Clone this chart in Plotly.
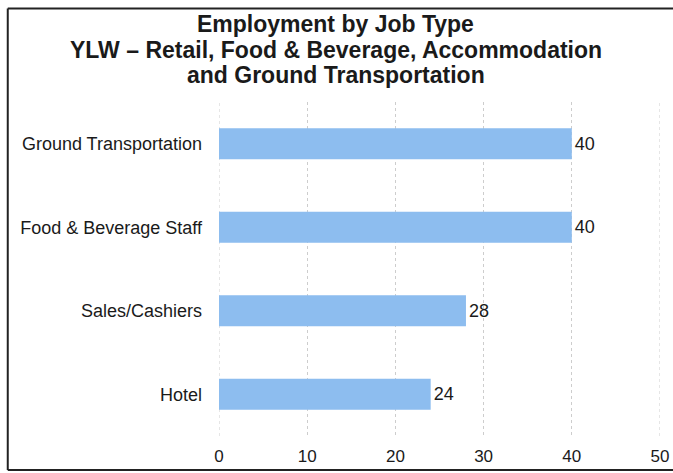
import plotly.graph_objects as go

# Employment counts by job type (top to bottom as listed)
categories = ["Ground Transportation", "Food & Beverage Staff", "Sales/Cashiers", "Hotel"]
employees = [40, 40, 28, 24]
x_ticks = [0, 10, 20, 30, 40, 50]

title_lines = [
    "Employment by Job Type",
    "YLW \u2013 Retail, Food & Beverage, Accommodation",
    "and Ground Transportation",
]

FONT = "Liberation Sans, Arial, sans-serif"
INK = "#1a1a1a"
GRID = "#cdcdcd"

fig = go.Figure(
    go.Bar(
        x=employees,
        y=categories,
        orientation="h",
        marker=dict(color="#8dbdef", line=dict(width=0)),
        width=0.37,
        text=[str(v) for v in employees],
        textposition="outside",
        textfont=dict(family=FONT, size=18, color=INK),
        cliponaxis=False,
    )
)

# Title drawn as three centred lines above the plot area
title_y_px = [24, 50, 75]  # line centres measured from the top of the figure
plot_top, plot_h = 102, 334
annotations = []
for line, ypx in zip(title_lines, title_y_px):
    annotations.append(dict(
        text=f"<b>{line}</b>",
        xref="paper", yref="paper",
        x=0.265, y=1 + (plot_top - ypx) / plot_h,
        xanchor="center", yanchor="middle",
        showarrow=False,
        font=dict(family=FONT, size=23, color=INK),
    ))

frame = dict(color="#222222", width=2)

# dotted gridlines at the outer ticks, which sit on the plot edges
edge_grid = [
    dict(type="line", xref="x", yref="paper", x0=v, x1=v, y0=0, y1=1,
         line=dict(color=GRID, width=1, dash="dot"), layer="below")
    for v in (x_ticks[0], x_ticks[-1])
]

fig.update_layout(
    width=673,
    height=473,
    margin=dict(l=219, r=13, t=plot_top, b=473 - plot_top - plot_h, autoexpand=False),
    paper_bgcolor="white",
    plot_bgcolor="white",
    showlegend=False,
    annotations=annotations,
    xaxis=dict(
        range=[x_ticks[0], x_ticks[-1]],
        tickvals=x_ticks,
        showgrid=True,
        gridcolor=GRID,
        griddash="dot",
        gridwidth=1,
        zeroline=False,
        showline=False,
        ticks="",
        automargin=False,
        ticklabelstandoff=8,
        tickfont=dict(family=FONT, size=17, color=INK),
    ),
    yaxis=dict(
        categoryorder="array",
        categoryarray=categories[::-1],
        showgrid=False,
        zeroline=False,
        showline=False,
        ticks="",
        automargin=False,
        ticklabelstandoff=16,
        tickfont=dict(family=FONT, size=18, color=INK),
    ),
    shapes=edge_grid + [
        # frame around the chart (left, top, bottom edges)
        dict(type="line", xref="paper", yref="paper", x0=-0.479, x1=-0.479, y0=-0.102, y1=1.28,
             line=frame),
        dict(type="line", xref="paper", yref="paper", x0=-0.479, x1=1.04, y0=1.28, y1=1.28,
             line=frame),
        dict(type="line", xref="paper", yref="paper", x0=-0.479, x1=1.04, y0=-0.102, y1=-0.102,
             line=frame),
    ],
)

fig.write_html("out.html")
